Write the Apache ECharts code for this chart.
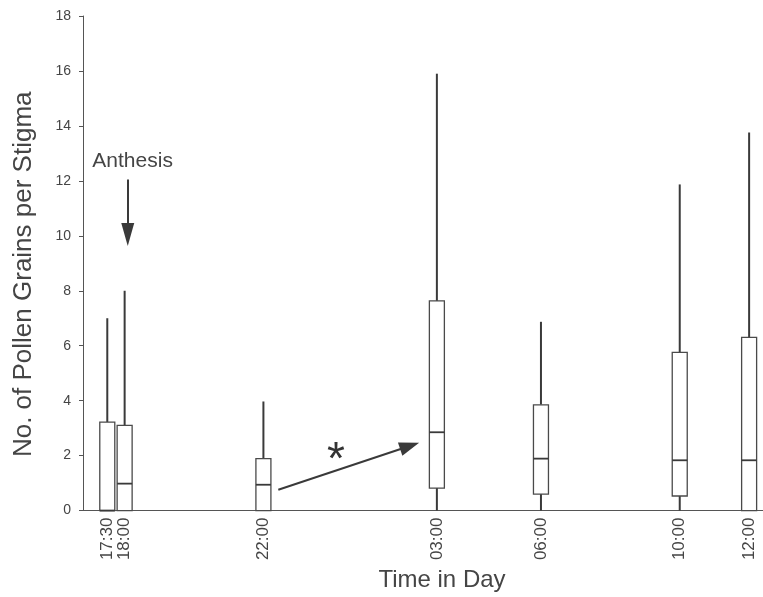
<!DOCTYPE html>
<html>
<head>
<meta charset="utf-8">
<script src="https://cdn.jsdelivr.net/npm/echarts@6/dist/echarts.min.js"></script>
<style>html,body{margin:0;padding:0;background:#fff;}#c{width:763px;height:597px;}</style>
</head>
<body>
<div id="c"></div>
<script>
// ---- data ----
const timeLabels = ['17:30', '18:00', '22:00', '03:00', '06:00', '10:00', '12:00'];
const timeHours  = [17.5, 18, 22, 27, 30, 34, 36];   // continuous clock hours (03:00 next day = 27)
const minVals    = [0, 0, 0, 0, 0, 0, 0];
const q1Vals     = [0, 0, 0, 0.82, 0.6, 0.53, 0];
const medianVals = [0, 0.98, 0.94, 2.85, 1.89, 1.83, 1.83];
const q3Vals     = [3.22, 3.1, 1.89, 7.63, 3.85, 5.76, 6.3];
const maxVals    = [7.0, 8.0, 3.97, 15.9, 6.87, 11.87, 13.76];
const yTicks     = [0, 2, 4, 6, 8, 10, 12, 14, 16, 18];

const boxData = timeHours.map((h, i) => [h, minVals[i], q1Vals[i], medianVals[i], q3Vals[i], maxVals[i]]);

const chart = echarts.init(document.getElementById('c'), null, {renderer: 'canvas'});
const ink = '#3a3a3a';
const textCol = '#454545';

chart.setOption({
  backgroundColor: '#fff',
  animation: false,
  grid: {left: 83, right: 0, top: 16, bottom: 85},
  xAxis: {
    type: 'value',
    min: 16.8, max: 36.4,
    splitLine: {show: false},
    axisLine: {show: true, lineStyle: {color: '#555', width: 1}},
    axisTick: {show: false},
    axisLabel: {
      customValues: timeHours,
      rotate: 90,
      margin: 7,
      fontSize: 17,
      fontFamily: 'Liberation Sans, Arial, sans-serif',
      color: textCol,
      formatter: v => { const i = timeHours.indexOf(v); return i >= 0 ? timeLabels[i] : ''; }
    },
    name: 'Time in Day',
    nameLocation: 'middle',
    nameGap: 54,
    nameTextStyle: {fontSize: 24, color: textCol, fontFamily: 'Liberation Sans, Arial, sans-serif', padding: [0, 0, 0, 38]}
  },
  yAxis: {
    type: 'value',
    min: 0, max: 18, interval: 2,
    splitLine: {show: false},
    axisLine: {show: true, lineStyle: {color: '#555', width: 1}},
    axisTick: {show: true, length: 4, lineStyle: {color: '#555'}},
    axisLabel: {
      customValues: yTicks,
      margin: 12, fontSize: 14, color: textCol,
      fontFamily: 'Liberation Sans, Arial, sans-serif'
    },
    name: 'No. of Pollen Grains per Stigma',
    nameLocation: 'middle',
    nameGap: 46,
    nameTextStyle: {fontSize: 26, color: textCol, fontFamily: 'Liberation Sans, Arial, sans-serif', padding: [0, 22, 0, 0]}
  },
  series: [{
    type: 'custom',
    data: boxData,
    encode: {x: 0, y: [1, 2, 3, 4, 5]},
    clip: false,
    renderItem: function (params, api) {
      const x = api.value(0);
      const pMin = api.coord([x, api.value(1)]);
      const pQ1 = api.coord([x, api.value(2)]);
      const pMed = api.coord([x, api.value(3)]);
      const pQ3 = api.coord([x, api.value(4)]);
      const pMax = api.coord([x, api.value(5)]);
      const w = 15;
      const children = [];
      if (pMin[1] - pQ1[1] > 0.5) {
        children.push({type: 'line', shape: {x1: pMin[0], y1: pMin[1], x2: pQ1[0], y2: pQ1[1]}, style: {stroke: ink, lineWidth: 2}});
      }
      children.push({type: 'line', shape: {x1: pQ3[0], y1: pQ3[1], x2: pMax[0], y2: pMax[1]}, style: {stroke: ink, lineWidth: 2}});
      children.push({type: 'rect', shape: {x: pQ1[0] - w / 2, y: pQ3[1], width: w, height: pQ1[1] - pQ3[1]}, style: {fill: '#fff', stroke: '#4a4a4a', lineWidth: 1.3}});
      children.push({type: 'line', shape: {x1: pMed[0] - w / 2, y1: pMed[1], x2: pMed[0] + w / 2, y2: pMed[1]}, style: {stroke: ink, lineWidth: 1.8}});
      return {type: 'group', children: children};
    },
    markLine: {
      silent: true,
      animation: false,
      symbol: ['none', 'path://M5,0 L10,18 L0,18 Z'],
      lineStyle: {color: ink, width: 2, type: 'solid'},
      label: {show: false},
      data: [
        [{coord: [18.09, 12.05]}, {coord: [18.09, 10.05], symbolSize: [13, 23]}],
        [{coord: [22.43, 0.76]}, {coord: [26.215, 2.35], symbolSize: [14, 20]}]
      ]
    },
    markPoint: {
      silent: true,
      animation: false,
      symbol: 'circle',
      symbolSize: 0,
      label: {show: true, position: 'inside', color: textCol, fontFamily: 'Liberation Sans, Arial, sans-serif'},
      data: [
        {coord: [18.23, 12.7], value: 'Anthesis', label: {formatter: 'Anthesis', fontSize: 21}},
        {coord: [24.09, 1.81], value: '*', label: {formatter: '*', fontSize: 46, color: '#333'}}
      ]
    }
  }]
});
</script>
</body>
</html>
